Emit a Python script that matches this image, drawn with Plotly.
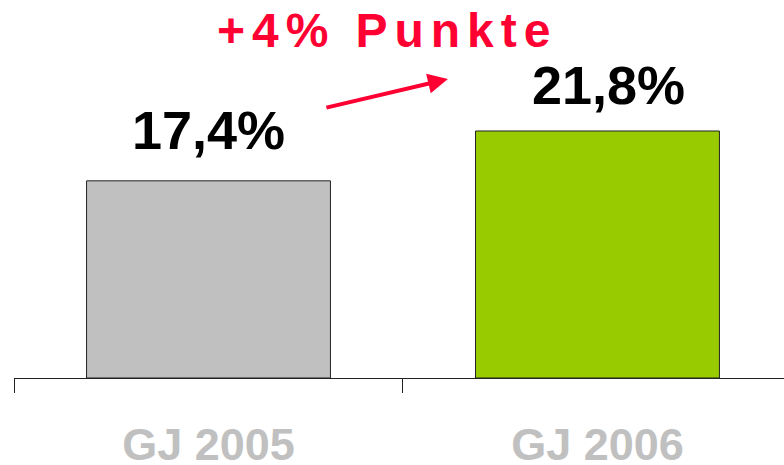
import plotly.graph_objects as go

categories = ["GJ 2005", "GJ 2006"]
values = [17.4, 21.8]
value_labels = ["17,4%", "21,8%"]
bar_colors = ["#C0C0C0", "#99CC00"]
headline = "+4% Punkte"

FONT = "Arial, Liberation Sans, sans-serif"
RED = "#FF0033"

fig = go.Figure()
fig.add_trace(go.Bar(
    x=categories,
    y=values,
    marker=dict(color=bar_colors, line=dict(color="#222222", width=1)),
    hoverinfo="skip",
))

# value labels above each bar (the second one sits a little right and lower)
label_shift = [(0, 19), (11, 14)]
for cat, val, lab, (dx, dy) in zip(categories, values, value_labels, label_shift):
    fig.add_annotation(
        x=cat, y=val, text=lab, showarrow=False,
        yanchor="bottom", xshift=dx, yshift=dy,
        font=dict(family=FONT, size=54, color="black", weight="bold"),
    )

# headline with widened letter spacing
gap = '<span style="font-size:25px"> </span>'
fig.add_annotation(
    x=0.4805, y=1.0, xref="paper", yref="paper",
    text=gap.join(headline), showarrow=False,
    xanchor="center", yanchor="top", yshift=-2,
    font=dict(family=FONT, size=48, color=RED, weight="bold"),
)

# arrow between the bars
fig.add_annotation(
    x=0.5635, y=0.791, xref="paper", yref="paper",
    ax=-123, ay=29, axref="pixel", ayref="pixel",
    text="", showarrow=True,
    arrowhead=2, arrowsize=1, arrowwidth=4, arrowcolor=RED,
)

fig.update_layout(
    width=784, height=465,
    margin=dict(l=14, r=0, t=0, b=87),
    plot_bgcolor="white", paper_bgcolor="white",
    bargap=0.373,
    showlegend=False,
)
fig.update_xaxes(
    range=[-0.5, 1.4795],
    showline=True, linecolor="#222222", linewidth=1,
    ticks="outside", tickson="boundaries", ticklen=14, tickcolor="#222222",
    tickfont=dict(family=FONT, size=45, color="#C0C0C0", weight="bold"),
    ticklabelstandoff=27,
    automargin=False,
    showgrid=False,
)
fig.update_yaxes(range=[0, 33.36], visible=False, showgrid=False)

# drop the default page margin so the figure fills the window exactly
fig.write_html(
    "out.html",
    config={"displayModeBar": False},
    post_script="document.body.style.margin='0';",
)
